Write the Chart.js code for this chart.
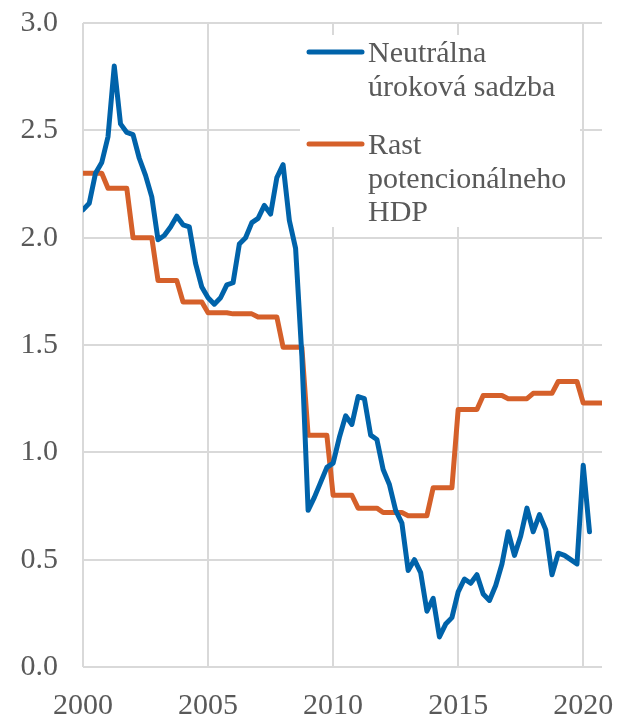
<!DOCTYPE html>
<html>
<head>
<meta charset="utf-8">
<title>Neutrálna úroková sadzba a rast potenciálneho HDP</title>
<script src="https://cdn.jsdelivr.net/npm/chart.js@4"></script>
<style>
  html, body { margin: 0; padding: 0; background: #fff; }
  #wrap { width: 620px; height: 721px; position: relative; }
</style>
</head>
<body>
<div id="wrap"><canvas id="graf"></canvas></div>
<script>
// Štvrťročné údaje 2000Q1 - 2020Q4
const roky = [2000, 2020];

const neutralnaSadzba = [
    2.13, 2.16, 2.30, 2.35,   // 2000
    2.47, 2.80, 2.53, 2.49,   // 2001
    2.48, 2.37, 2.29, 2.19,   // 2002
    1.99, 2.01, 2.05, 2.10,   // 2003
    2.06, 2.05, 1.88, 1.77,   // 2004
    1.72, 1.69, 1.72, 1.78,   // 2005
    1.79, 1.97, 2.00, 2.07,   // 2006
    2.09, 2.15, 2.11, 2.28,   // 2007
    2.34, 2.08, 1.95, 1.45,   // 2008
    0.73, 0.79, 0.86, 0.93,   // 2009
    0.95, 1.07, 1.17, 1.13,   // 2010
    1.26, 1.25, 1.08, 1.06,   // 2011
    0.92, 0.85, 0.73, 0.67,   // 2012
    0.45, 0.50, 0.44, 0.26,   // 2013
    0.32, 0.14, 0.20, 0.23,   // 2014
    0.35, 0.41, 0.39, 0.43,   // 2015
    0.34, 0.31, 0.38, 0.48,   // 2016
    0.63, 0.52, 0.61, 0.74,   // 2017
    0.63, 0.71, 0.64, 0.43,   // 2018
    0.53, 0.52, 0.50, 0.48,   // 2019
    0.94, 0.63, null, null    // 2020
];

const rastPotencialneho = [
    2.30, 2.30, 2.30, 2.30,   // 2000
    2.23, 2.23, 2.23, 2.23,   // 2001
    2.00, 2.00, 2.00, 2.00,   // 2002
    1.80, 1.80, 1.80, 1.80,   // 2003
    1.70, 1.70, 1.70, 1.70,   // 2004
    1.65, 1.65, 1.65, 1.65,   // 2005
    1.645, 1.645, 1.645, 1.645, // 2006
    1.63, 1.63, 1.63, 1.63,   // 2007
    1.49, 1.49, 1.49, 1.49,   // 2008
    1.08, 1.08, 1.08, 1.08,   // 2009
    0.80, 0.80, 0.80, 0.80,   // 2010
    0.74, 0.74, 0.74, 0.74,   // 2011
    0.72, 0.72, 0.72, 0.72,   // 2012
    0.705, 0.705, 0.705, 0.705, // 2013
    0.835, 0.835, 0.835, 0.835, // 2014
    1.20, 1.20, 1.20, 1.20,   // 2015
    1.265, 1.265, 1.265, 1.265, // 2016
    1.25, 1.25, 1.25, 1.25,   // 2017
    1.275, 1.275, 1.275, 1.275, // 2018
    1.33, 1.33, 1.33, 1.33,   // 2019
    1.23, 1.23, 1.23, 1.23    // 2020
];

const nazvySerii = ['Neutrálna úroková sadzba', 'Rast potencionálneho HDP'];
// texty legendy po riadkoch
const riadkyLegendy = [
    ['Neutrálna', 'úroková sadzba'],
    ['Rast', 'potencionálneho', 'HDP']
];
const farby = ['#0063aa', '#d5602a'];

const pismo = '"Liberation Serif", "DejaVu Serif", serif';
const sedaText = '#595959';
const sedaMriezka = '#d9d9d9';

// os x: štvrťroky ako desatinný rok
const stvrtroky = [];
for (let r = roky[0]; r <= roky[1]; r++) {
    for (let q = 0; q < 4; q++) stvrtroky.push(r + q / 4);
}

function body(hodnoty) {
    return hodnoty.map((v, i) => ({ x: stvrtroky[i], y: v }));
}

// legenda s bielym pozadím vnútri grafu
const legendaVnutri = {
    id: 'legendaVnutri',
    afterDraw(chart) {
        const { ctx, chartArea } = chart;
        const x0 = chartArea.left + 217;
        const y0 = chartArea.top + 12;
        ctx.save();
        ctx.fillStyle = '#ffffff';
        ctx.fillRect(x0, y0, 280, 192);
        ctx.font = '30px ' + pismo;
        ctx.textBaseline = 'alphabetic';
        ctx.textAlign = 'left';
        let y = y0 + 27;
        riadkyLegendy.forEach((riadky, i) => {
            ctx.strokeStyle = chart.data.datasets[i].borderColor;
            ctx.lineWidth = 5;
            ctx.lineCap = 'round';
            ctx.beginPath();
            ctx.moveTo(x0 + 9, y - 10);
            ctx.lineTo(x0 + 62, y - 10);
            ctx.stroke();
            ctx.fillStyle = sedaText;
            riadky.forEach((t, j) => ctx.fillText(t, x0 + 68, y + j * 33.5));
            y += riadky.length * 33.5 + 25;
        });
        ctx.restore();
    }
};

const ctx = document.getElementById('graf').getContext('2d');
const graf = new Chart(ctx, {
    type: 'line',
    data: {
        datasets: [
            {
                label: nazvySerii[0],
                data: body(neutralnaSadzba),
                borderColor: farby[0],
                borderWidth: 5,
                pointRadius: 0,
                tension: 0,
                borderCapStyle: 'round',
                borderJoinStyle: 'round',
                spanGaps: false
            },
            {
                label: nazvySerii[1],
                data: body(rastPotencialneho),
                borderColor: farby[1],
                borderWidth: 5,
                pointRadius: 0,
                tension: 0,
                borderCapStyle: 'round',
                borderJoinStyle: 'round'
            }
        ]
    },
    options: {
        responsive: true,
        maintainAspectRatio: false,
        animation: false,
        layout: { padding: { top: 23, right: 18, left: 0, bottom: 0 } },
        plugins: {
            legend: { display: false },
            tooltip: { enabled: false }
        },
        scales: {
            x: {
                type: 'linear',
                min: 2000,
                max: 2020.75,
                border: { display: false },
                grid: { color: sedaMriezka, lineWidth: 2, drawTicks: false },
                ticks: {
                    stepSize: 5,
                    includeBounds: false,
                    maxRotation: 0,
                    padding: 21,
                    color: sedaText,
                    font: { family: pismo, size: 30 },
                    callback: v => String(v)
                },
                afterFit: s => {
                    s.height = 54;
                    s.paddingLeft = 0;
                    s.paddingRight = 0;
                }
            },
            y: {
                min: 0,
                max: 3,
                border: { display: false },
                grid: { color: sedaMriezka, lineWidth: 2, drawTicks: false },
                ticks: {
                    stepSize: 0.5,
                    padding: 25,
                    color: sedaText,
                    font: { family: pismo, size: 30 },
                    callback: v => v.toFixed(1)
                },
                afterFit: s => {
                    s.width = 83;
                    s.paddingTop = 0;
                    s.paddingBottom = 0;
                }
            }
        }
    },
    plugins: [legendaVnutri]
});
</script>
</body>
</html>
